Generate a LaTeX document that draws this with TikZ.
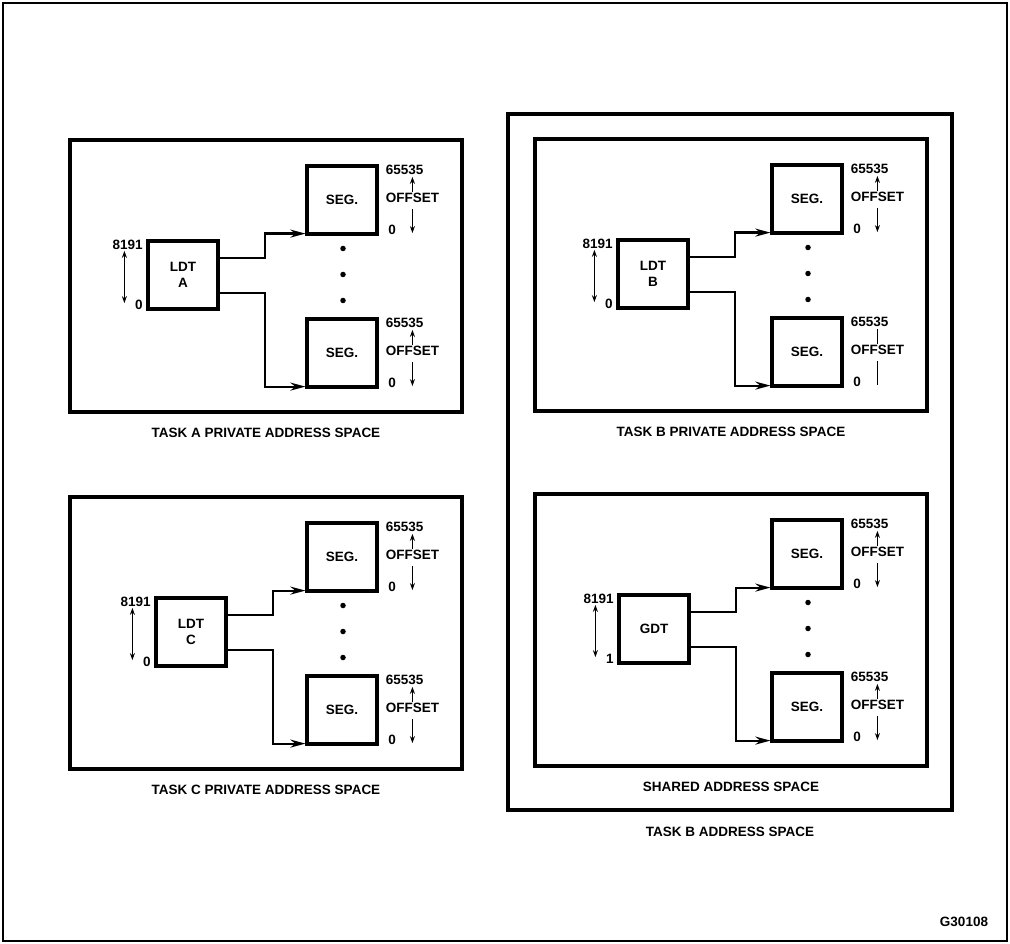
\documentclass[tikz,border=0pt]{standalone}
\usepackage{fontspec}
\setmainfont{Liberation Sans}
\usetikzlibrary{arrows.meta,positioning,calc}

\newcommand\diagfont{\fontsize{13.5}{16}\selectfont\bfseries}

\begin{document}
\begin{tikzpicture}[x=1pt, y=-1pt, >={Stealth[length=15pt,width=8pt]},
    panel/.style={rectangle, draw, line width=3.5pt, minimum width=392pt, minimum height=272pt, inner sep=0pt},
    outer/.style={rectangle, draw, line width=3.5pt, minimum width=444pt, minimum height=696pt, inner sep=0pt},
    tbl/.style={rectangle, draw, line width=3.2pt, minimum width=70pt, minimum height=68pt, align=center, font=\diagfont},
    seg/.style={rectangle, draw, line width=3.2pt, minimum width=70pt, minimum height=68pt, font=\diagfont},
    conn/.style={->, line width=2.2pt},
    tick/.style={line width=1.6pt, >={Stealth[length=7pt,width=5pt]}},
    offtip/.style={#1},
    dot/.style={circle, fill, inner sep=0pt, minimum size=5.5pt},
    txt/.style={inner sep=0pt, font=\diagfont},
    caption/.style={inner sep=0pt, font=\diagfont}]
    \useasboundingbox (0,0) rectangle (1010,944);
    \draw[line width=2pt] (3,3) rectangle (1007,941);

    % the four address spaces
    \foreach \n/\x/\y/\tx/\tab/\lo/\lt/\cap in {
        A/70/140/113/{LDT\\A}/0/->/{TASK A PRIVATE ADDRESS SPACE},
        B/535/139/118/{LDT\\B}/0/-/{TASK B PRIVATE ADDRESS SPACE},
        C/70/497/121/{LDT\\C}/0/->/{TASK C PRIVATE ADDRESS SPACE},
        S/535/494/119/GDT/1/->/{SHARED ADDRESS SPACE}}
    {
        \node[panel] (p\n) at (\x+196,\y+136) {};
        \node[caption, below=14pt of p\n] (cap\n) {\cap};
        \node[tbl] (t\n) at (\x+\tx,\y+135) {\tab};
        \node[seg] (u\n) at (\x+272,\y+60) {SEG.};
        \node[seg] (l\n) at (\x+272,\y+213) {SEG.};
        \foreach \k/\dy in {1/-26,2/0,3/26}
            \node[dot] (d\n\k) at ($(u\n)!0.5!(l\n)+(1,\dy-2)$) {};

        % descriptor table limits
        \node[txt, anchor=east] (max\n) at ([xshift=-3.5pt,yshift=-5.5pt]t\n.north west) {8191};
        \node[txt, anchor=east] (min\n) at ([xshift=-3.5pt,yshift=5.5pt]t\n.south west) {\lo};
        \draw[tick, <->] ($(t\n.west |- max\n.south)+(-22,1)$) -- ($(t\n.west |- min\n.center)+(-22,-2)$);

        \draw[conn] ([yshift=17pt]t\n.east) -- ++(45,0) |- ([yshift=2pt]u\n.south west);
        \draw[conn] ([yshift=-18pt]t\n.east) -- ++(45,0) |- ([yshift=2pt]l\n.south west);

        % segment offsets
        \foreach \s/\ar in {u\n/->, l\n/\lt} {
            \node[txt, anchor=west] (hi\s) at ([xshift=7pt,yshift=-5.5pt]\s.north east) {65535};
            \node[txt, anchor=west] (off\s) at ([xshift=7pt,yshift=2pt]\s.east) {OFFSET};
            \node[txt, anchor=west] (lo\s) at ([xshift=9.5pt,yshift=5.5pt]\s.south east) {0};
            \draw[tick, offtip/.expanded=\ar] ([yshift=1pt]off\s.north) -- ([yshift=-2pt]off\s.north |- hi\s.south);
            \draw[tick, offtip/.expanded=\ar] ([yshift=-6pt]off\s.south) -- ([yshift=2pt]off\s.south |- lo\s.south);
        }
    }

    \node[outer] (taskB) at (730,462) {};
    \node[caption, below=15pt of taskB] (capT) {TASK B ADDRESS SPACE};

    \node[txt] (fig) at (964,922) {G30108};
\end{tikzpicture}
\end{document}
